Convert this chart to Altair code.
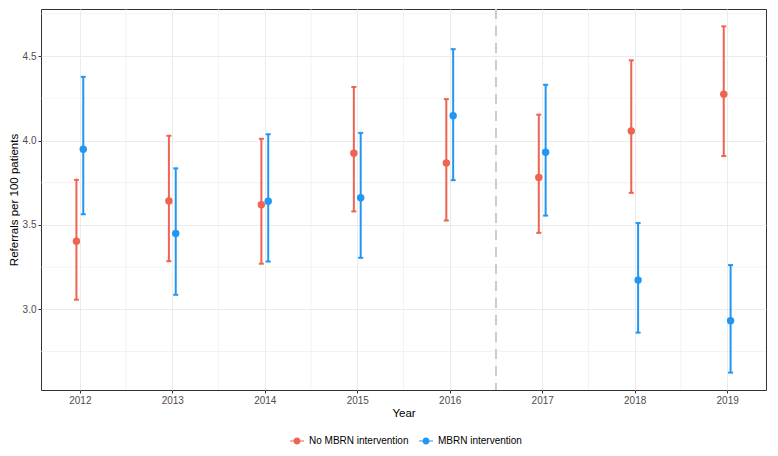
import altair as alt
import pandas as pd

years = [2012, 2013, 2014, 2015, 2016, 2017, 2018, 2019]
groups = ["No MBRN intervention", "MBRN intervention"]

no_est = [3.403, 3.642, 3.620, 3.925, 3.867, 3.781, 4.057, 4.274]
no_lo = [3.057, 3.285, 3.270, 3.580, 3.526, 3.453, 3.690, 3.908]
no_hi = [3.767, 4.028, 4.010, 4.317, 4.245, 4.153, 4.475, 4.676]

mb_est = [3.948, 3.449, 3.640, 3.661, 4.147, 3.931, 3.173, 2.932]
mb_lo = [3.563, 3.086, 3.283, 3.305, 3.765, 3.555, 2.862, 2.625]
mb_hi = [4.377, 3.835, 4.037, 4.045, 4.541, 4.330, 3.511, 3.262]

y_ticks = [3.0, 3.5, 4.0, 4.5]
y_minor = [2.75, 3.25, 3.75, 4.25, 4.75]
x_minor = [2012.5, 2013.5, 2014.5, 2015.5, 2016.5, 2017.5, 2018.5]
cutoff = [2016.5]

RED = "#EE6352"
BLUE = "#2196F3"
FONT = "Liberation Sans"

rows = []
for i, yr in enumerate(years):
    rows.append({"year": yr, "group": groups[0], "est": no_est[i], "lo": no_lo[i], "hi": no_hi[i]})
    rows.append({"year": yr, "group": groups[1], "est": mb_est[i], "lo": mb_lo[i], "hi": mb_hi[i]})
df = pd.DataFrame(rows)

xscale = alt.Scale(domain=[2011.58, 2019.42], nice=False, zero=False)
yscale = alt.Scale(domain=[2.522, 4.779], nice=False, zero=False)
cscale = alt.Scale(domain=groups, range=[RED, BLUE])

legend_path = ("M -1 -0.07 H 1 V 0.07 H -1 Z "
               "M 0.5 0 A 0.5 0.5 0 1 1 -0.5 0 A 0.5 0.5 0 1 1 0.5 0 Z")

xaxis = alt.Axis(values=years, format="d", title="Year", grid=True,
                 labelFontSize=10, labelColor="#4D4D4D", labelPadding=2,
                 tickColor="#333333", tickSize=3, domain=False,
                 titleFontSize=11.5, titleColor="#000000", titleFontWeight="normal",
                 titlePadding=2, gridColor="#EBEBEB", gridWidth=1)
yaxis = alt.Axis(values=y_ticks, format=".1f", title="Referrals per 100 patients",
                 grid=True, labelFontSize=10, labelColor="#4D4D4D", labelPadding=2,
                 tickColor="#333333", tickSize=3, domain=False,
                 titleFontSize=11.5, titleColor="#000000", titleFontWeight="normal",
                 titlePadding=3, gridColor="#EBEBEB", gridWidth=1)

group_color = alt.condition(alt.datum.group == groups[0], alt.value(RED), alt.value(BLUE))

# minor grid
minor_x = alt.Chart(pd.DataFrame({"v": x_minor})).mark_rule(
    color="#EBEBEB", strokeWidth=0.6).encode(
    x=alt.X("v:Q", scale=xscale, axis=xaxis))
minor_y = alt.Chart(pd.DataFrame({"v": y_minor})).mark_rule(
    color="#EBEBEB", strokeWidth=0.6).encode(
    y=alt.Y("v:Q", scale=yscale, axis=yaxis))

cut = alt.Chart(pd.DataFrame({"v": cutoff})).mark_rule(
    color="#CCCCCC", strokeWidth=2, strokeDash=[10, 7]).encode(
    x=alt.X("v:Q", scale=xscale, axis=xaxis))

base = alt.Chart(df).transform_calculate(
    xpos="datum.year + (datum.group == 'No MBRN intervention' ? -0.037 : 0.037)"
)

bars = base.mark_rule(strokeWidth=2).encode(
    x=alt.X("xpos:Q", scale=xscale, axis=xaxis),
    y=alt.Y("lo:Q", scale=yscale, axis=yaxis),
    y2="hi:Q",
    color=group_color,
)
cap_lo = base.mark_tick(orient="horizontal", size=5, thickness=2, opacity=1).encode(
    x=alt.X("xpos:Q", scale=xscale, axis=xaxis),
    y=alt.Y("lo:Q", scale=yscale, axis=yaxis),
    color=group_color,
)
cap_hi = base.mark_tick(orient="horizontal", size=5, thickness=2, opacity=1).encode(
    x=alt.X("xpos:Q", scale=xscale, axis=xaxis),
    y=alt.Y("hi:Q", scale=yscale, axis=yaxis),
    color=group_color,
)
pts = base.mark_circle(size=55, opacity=1).encode(
    x=alt.X("xpos:Q", scale=xscale, axis=xaxis),
    y=alt.Y("est:Q", scale=yscale, axis=yaxis),
    color=alt.Color("group:N", scale=cscale, sort=groups, legend=alt.Legend(
        title=None, orient="none", direction="horizontal",
        legendX=249, legendY=425,
        symbolType=legend_path, symbolSize=196, symbolStrokeWidth=0,
        symbolOpacity=1,
        labelFont=FONT, labelFontSize=10, labelColor="#000000",
        labelOffset=5, columnPadding=10)),
)

chart = alt.layer(minor_x, minor_y, cut, bars, cap_lo, cap_hi, pts).properties(
    width=725, height=381, padding=0
).configure(font=FONT).configure_view(
    stroke="#333333", strokeWidth=1
).configure_axis(labelFont=FONT, titleFont=FONT)

chart.save("out.html", embed_options={"renderer": "svg", "actions": False})
